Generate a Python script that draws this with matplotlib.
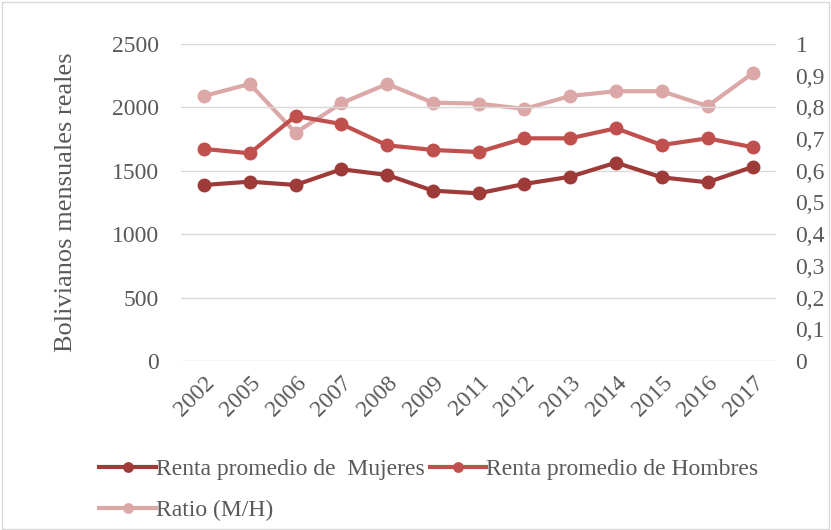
import matplotlib.pyplot as plt
from matplotlib.patches import Rectangle

years = ["2002", "2005", "2006", "2007", "2008", "2009", "2011",
         "2012", "2013", "2014", "2015", "2016", "2017"]
mujeres = [1388, 1414, 1388, 1512, 1467, 1343, 1322, 1396, 1453, 1564, 1448, 1409, 1532]
hombres = [1672, 1638, 1932, 1869, 1701, 1664, 1648, 1756, 1756, 1835, 1703, 1756, 1685]
ratio = [0.836, 0.874, 0.72, 0.813, 0.874, 0.815, 0.812, 0.795, 0.836, 0.851, 0.851, 0.804, 0.909]

left_ticks = [0, 500, 1000, 1500, 2000, 2500]
right_ticks = [0, 0.1, 0.2, 0.3, 0.4, 0.5, 0.6, 0.7, 0.8, 0.9, 1.0]

plt.rcParams['font.family'] = ['Liberation Serif', 'DejaVu Serif']
txt = '#595959'

fig = plt.figure(figsize=(8.31, 5.30), dpi=100)
fig.patches.append(Rectangle((0.002, 0.002), 0.996, 0.995, transform=fig.transFigure,
                             fill=False, edgecolor='#d9d9d9', linewidth=1))

ax = fig.add_axes([0.218, 0.319, 0.716, 0.598])
ax2 = ax.twinx()

x = list(range(len(years)))
h1, = ax.plot(x, mujeres, '-o', color='#9e3b39', lw=3, ms=9, label='Renta promedio de  Mujeres')
h2, = ax.plot(x, hombres, '-o', color='#c0504d', lw=3, ms=9, label='Renta promedio de Hombres')
h3, = ax2.plot(x, ratio, '-o', color='#dba8a7', lw=3, ms=9, label='Ratio (M/H)')
ax.set_zorder(ax2.get_zorder() + 1)
ax.patch.set_visible(False)

ax.set_ylim(0, 2500)
ax.set_yticks(left_ticks)
ax2.set_ylim(0, 1)
ax2.set_yticks(right_ticks)
ax2.set_yticklabels([('%.1f' % v).replace('.', ',') if v not in (0, 1) else str(int(v)) for v in right_ticks])
ax.set_xlim(-0.5, len(years) - 0.5)
ax.set_xticks(x)
ax.set_xticklabels(years, rotation=45, ha='right', rotation_mode='anchor')

ax2.grid(False)
ax.yaxis.grid(True, color='#d9d9d9', lw=1)
ax.set_axisbelow(True)
for a in (ax, ax2):
    for s in a.spines.values():
        s.set_visible(False)
    a.tick_params(length=0, labelsize=17, colors=txt, pad=16)
ax2.tick_params(pad=14)
ax.tick_params(axis='x', pad=8)
ax.set_ylabel('Bolivianos mensuales reales', fontsize=19, color=txt, labelpad=25)

fig.legend([h1, h3, h2], [h1.get_label(), h3.get_label(), h2.get_label()],
           ncol=2, loc='lower left', bbox_to_anchor=(0.094, -0.024), frameon=False,
           fontsize=17, labelcolor=txt, handlelength=2.4, handletextpad=0.0,
           columnspacing=0.2, labelspacing=0.85, markerscale=0.75)

fig.savefig('out.png', dpi=100)
